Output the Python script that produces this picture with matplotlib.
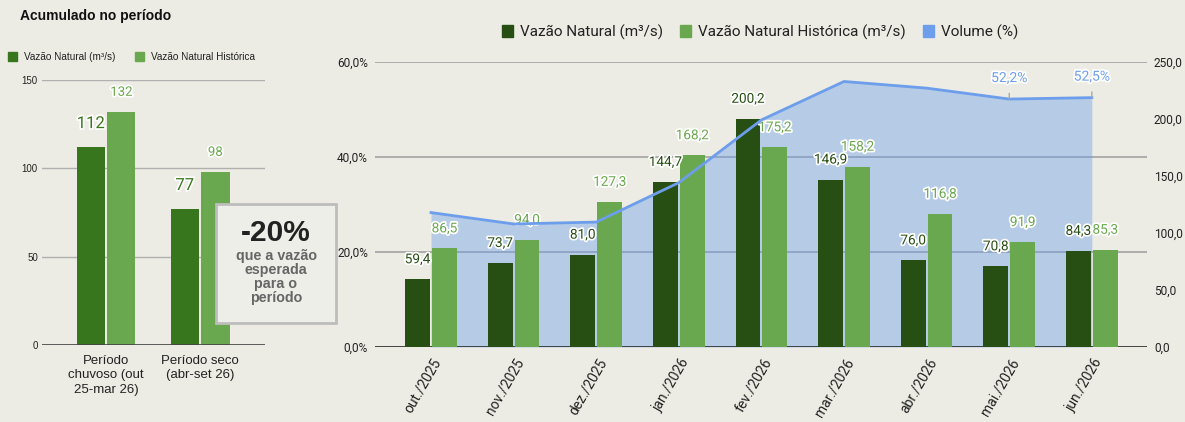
import matplotlib
matplotlib.use('Agg')
import matplotlib.pyplot as plt
import matplotlib.patheffects as pe
import matplotlib.transforms as mtrans
from matplotlib.patches import Patch, Rectangle
import numpy as np

# Acumulado no periodo (m3/s)
periodos = ['Período\nchuvoso (out\n25-mar 26)', 'Período seco\n(abr-set 26)']
acum_natural = [112, 77]
acum_historica = [132, 98]

# Mensal
meses = ['out./2025', 'nov./2025', 'dez./2025', 'jan./2026', 'fev./2026',
         'mar./2026', 'abr./2026', 'mai./2026', 'jun./2026']
vazao_natural = [59.4, 73.7, 81.0, 144.7, 200.2, 146.9, 76.0, 70.8, 84.3]
vazao_historica = [86.5, 94.0, 127.3, 168.2, 175.2, 158.2, 116.8, 91.9, 85.3]
volume = [28.3, 25.9, 26.3, 34.6, 47.8, 55.9, 54.5, 52.2, 52.5]
volume_rotulos = {7: '52,2%', 8: '52,5%'}

BG = '#ecece4'
VERDE_ESC = '#274e13'
VERDE_ESC2 = '#38761d'
VERDE = '#6aa84f'
AZUL = '#6d9eeb'
W, H = 1185, 422

plt.rcParams['font.family'] = ['Roboto', 'DejaVu Sans']


def fmt(v):
    return ('%.1f' % v).replace('.', ',')


halo = [pe.withStroke(linewidth=2.5, foreground='white')]

fig = plt.figure(figsize=(W / 100, H / 100), dpi=100, facecolor=BG)

# ---------------- grafico da esquerda ----------------
arial = ['Liberation Sans', 'DejaVu Sans']
fig.text(20 / W, 1 - 16 / H, 'Acumulado no período', fontsize=10, fontweight='bold',
         family=arial, va='center', ha='left', color='#111')

axl = fig.add_axes([42 / W, 1 - 345 / H, 223 / W, 265 / H])
axl.set_facecolor(BG)
xl = np.arange(len(periodos))
axl.bar(xl - 0.163, acum_natural, 0.30, color=VERDE_ESC2, zorder=3)
axl.bar(xl + 0.163, acum_historica, 0.30, color=VERDE, zorder=3)
axl.set_xlim(-0.68, 1.69)
axl.set_ylim(0, 150)
axl.set_yticks([0, 50, 100, 150])
axl.yaxis.grid(True, color='#b0b0b0', lw=1)
axl.set_axisbelow(True)
axl.axhline(0, color='#444', lw=1.2, zorder=4)
for s in axl.spines.values():
    s.set_visible(False)
axl.tick_params(length=0)
axl.tick_params(axis='y', pad=3, labelsize=7, labelcolor='#222')
axl.set_xticks(xl)
axl.set_xticklabels(periodos, fontsize=9.5, color='#222', family=arial, linespacing=1.3)
axl.tick_params(axis='x', pad=7)
for lab in axl.get_yticklabels():
    lab.set_family(arial)

for i in range(len(periodos)):
    axl.annotate(str(acum_natural[i]), (xl[i] - 0.163, acum_natural[i]), xytext=(0, 19),
                 textcoords='offset pixels', ha='center', va='baseline', fontsize=12,
                 color=VERDE_ESC2, path_effects=halo, zorder=5)
    axl.annotate(str(acum_historica[i]), (xl[i] + 0.163, acum_historica[i]), xytext=(0, 16),
                 textcoords='offset pixels', ha='center', va='baseline', fontsize=9.5,
                 color=VERDE, path_effects=halo, zorder=5)

fig.legend(handles=[Patch(color=VERDE_ESC2, label='Vazão Natural (m³/s)'),
                    Patch(color=VERDE, label='Vazão Natural Histórica')],
           loc='center left', bbox_to_anchor=(8 / W, 1 - 57 / H), ncol=2, frameon=False,
           prop={'family': arial, 'size': 7.2}, handlelength=0.9, handleheight=0.9,
           handletextpad=0.7, columnspacing=2.0, borderpad=0, borderaxespad=0,
           labelcolor='#222')

# caixa de destaque
fig.patches.append(Rectangle((216 / W, 1 - 323 / H), 120 / W, 119 / H, transform=fig.transFigure,
                             facecolor='#eeeee9', edgecolor='#bdbdbd', lw=2, zorder=10))
fig.text(276 / W, 1 - 233 / H, '-20%', fontsize=21.5, fontweight='bold', family=arial,
         ha='center', va='center', color='#222', zorder=11)
fig.text(276 / W, 1 - 277 / H, 'que a vazão\nesperada\npara o\nperíodo', fontsize=10.3,
         fontweight='bold', family=arial, ha='center', va='center', color='#666',
         linespacing=0.97, zorder=11)

# ---------------- grafico da direita ----------------
pos = [375 / W, 75 / H, 772 / W, 285 / H]
ax = fig.add_axes(pos)
ax.set_facecolor(BG)
x = np.arange(len(meses))
ax.set_xlim(-0.678, 8.668)
ax.set_ylim(0, 60)
ax.set_yticks([0, 20, 40, 60])
ax.set_yticklabels([fmt(v) + '%' for v in [0, 20, 40, 60]])
ax.yaxis.grid(True, color='#a8a8a8', lw=1.3, zorder=0)
ax.set_axisbelow(True)
ax.fill_between(x, volume, color=AZUL, alpha=0.42, lw=0, zorder=2)
ax.axhline(0, color='#333', lw=1.2, zorder=4)
for s in ax.spines.values():
    s.set_visible(False)
ax.tick_params(length=0)
ax.tick_params(axis='y', pad=5, labelsize=8.6, labelcolor='#222')
ax.set_xticks(x)
ax.set_xticklabels(meses, rotation=60, ha='right', va='center', rotation_mode='anchor',
                   fontsize=10, color='#222')
ax.tick_params(axis='x', pad=9)
shift = mtrans.ScaledTranslation(7 / 100, 0, fig.dpi_scale_trans)
for lab in ax.get_xticklabels():
    lab.set_transform(lab.get_transform() + shift)

ax2 = ax.twinx()
ax2.set_ylim(0, 250)
ax2.set_yticks([0, 50, 100, 150, 200, 250])
ax2.set_yticklabels([fmt(v) for v in [0, 50, 100, 150, 200, 250]])
ax2.tick_params(length=0, pad=5, labelsize=8.6, labelcolor='#222')
for s in ax2.spines.values():
    s.set_visible(False)
ax2.bar(x - 0.163, vazao_natural, 0.30, color=VERDE_ESC, zorder=3)
ax2.bar(x + 0.163, vazao_historica, 0.30, color=VERDE, zorder=3)
for i in range(len(meses)):
    ax2.annotate(fmt(vazao_natural[i]), (x[i] - 0.163, vazao_natural[i]), xytext=(0, 16),
                 textcoords='offset pixels', ha='center', va='baseline', fontsize=9.8,
                 color=VERDE_ESC, path_effects=halo, zorder=5)
    ax2.annotate(fmt(vazao_historica[i]), (x[i] + 0.163, vazao_historica[i]), xytext=(0, 16),
                 textcoords='offset pixels', ha='center', va='baseline', fontsize=9.8,
                 color=VERDE, path_effects=halo, zorder=5)

ax3 = fig.add_axes(pos, sharex=ax, sharey=ax)
ax3.axis('off')
ax3.patch.set_visible(False)
ax3.plot(x, volume, color=AZUL, lw=2, zorder=5)
for i, txt in volume_rotulos.items():
    ax3.annotate(txt, (x[i], volume[i]), xytext=(0, 17), textcoords='offset pixels',
                 ha='center', va='baseline', fontsize=10, color=AZUL, path_effects=halo,
                 arrowprops=dict(arrowstyle='-', color='#a8a8a8', lw=1, shrinkA=4, shrinkB=0),
                 zorder=6)

fig.legend(handles=[Patch(color=VERDE_ESC, label='Vazão Natural (m³/s)'),
                    Patch(color=VERDE, label='Vazão Natural Histórica (m³/s)'),
                    Patch(color=AZUL, label='Volume (%)')],
           loc='center', bbox_to_anchor=(760 / W, 1 - 32 / H), ncol=3, frameon=False,
           fontsize=11, handlelength=0.75, handleheight=0.75, handletextpad=0.45,
           columnspacing=1.1, borderpad=0, labelcolor='#222')

fig.savefig('out.png', dpi=100, facecolor=BG)
